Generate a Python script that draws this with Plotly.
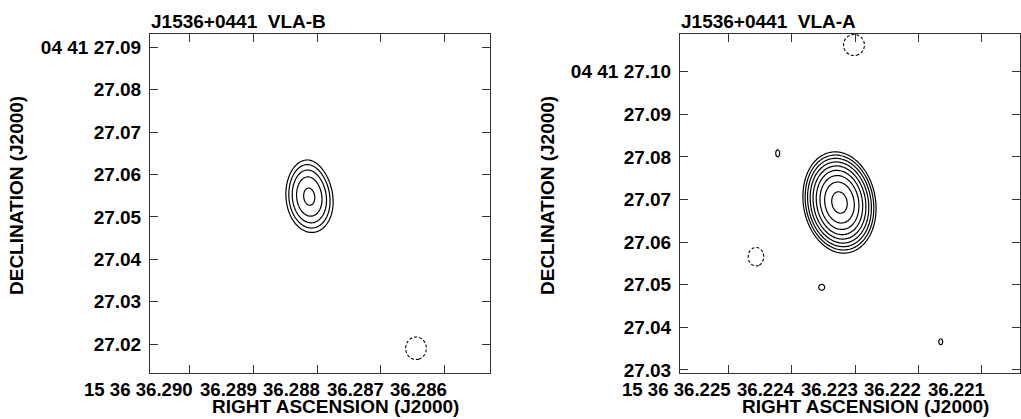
import numpy as np
import plotly.graph_objects as go

# ---------------- data ----------------
TITLES = ["J1536+0441  VLA-B", "J1536+0441  VLA-A"]
X_TITLE = "RIGHT ASCENSION (J2000)"
Y_TITLE = "DECLINATION (J2000)"

# axis extents (RA seconds of time, Dec arcsec within 04 41)
RA_RANGE_B = [36.290629, 36.285281]
DEC_RANGE_B = [27.013166, 27.093138]
RA_RANGE_A = [36.225762, 36.220396]
DEC_RANGE_A = [27.029291, 27.108847]

RA_TICKS_B = [36.290, 36.289, 36.288, 36.287, 36.286]
RA_TICKTEXT_B = ["15 36 36.290", "36.289", "36.288", "36.287", "36.286"]
DEC_TICKS_B = [27.02, 27.03, 27.04, 27.05, 27.06, 27.07, 27.08, 27.09]
DEC_TICKTEXT_B = ["27.02", "27.03", "27.04", "27.05", "27.06", "27.07", "27.08", "04 41 27.09"]

RA_TICKS_A = [36.225, 36.224, 36.223, 36.222, 36.221]
RA_TICKTEXT_A = ["15 36 36.225", "36.224", "36.223", "36.222", "36.221"]
DEC_TICKS_A = [27.03, 27.04, 27.05, 27.06, 27.07, 27.08, 27.09, 27.10]
DEC_TICKTEXT_A = ["27.03", "27.04", "27.05", "27.06", "27.07", "27.08", "27.09", "04 41 27.10"]

# contour levels: LEVEL_BASE * LEVEL_FACTOR**k (in units of map rms); negative level = -LEVEL_BASE
LEVEL_BASE = 3.0
LEVEL_FACTOR = np.sqrt(2.0)
N_LEVELS_B = 5
N_LEVELS_A = 9

# emission components: position, peak (x rms), sigma major/minor (mas), PA (deg)
COMP_B_RA = [36.288112, 36.288160, 36.286445]
COMP_B_DEC = [27.053978, 27.058224, 27.018994]
COMP_B_PEAK = [11.0, 3.0, -4.5]
COMP_B_SMAJ = [4.72, 4.5, 2.96]
COMP_B_SMIN = [3.28, 2.8, 2.70]
COMP_B_PA = [7.0, 0.0, 0.0]

COMP_A_RA = [36.223245, 36.223016, 36.224563, 36.224220, 36.223526, 36.221647]
COMP_A_DEC = [27.069304, 27.106266, 27.056584, 27.080850, 27.049404, 27.036636]
COMP_A_PEAK = [54.7, -4.5, -4.5, 3.3, 3.3, 3.3]
COMP_A_SMAJ = [4.97, 2.74, 2.42, 1.88, 1.60, 1.60]
COMP_A_SMIN = [3.53, 2.74, 2.04, 1.08, 1.60, 1.08]
COMP_A_PA = [10.0, 0.0, 0.0, 0.0, 0.0, 0.0]

COS_DEC = np.cos(np.radians(4 + 41 / 60 + 27.07 / 3600))


def model_map(ra_rng, dec_rng, ras, decs, peaks, smaj, smin, pas, n=340):
    ra = np.linspace(min(ra_rng), max(ra_rng), n)
    dec = np.linspace(min(dec_rng), max(dec_rng), n)
    RA, DEC = np.meshgrid(ra, dec)
    z = np.zeros_like(RA)
    for r0, d0, a, sM, sm, pa in zip(ras, decs, peaks, smaj, smin, pas):
        dx = (RA - r0) * 15000.0 * COS_DEC   # mas, east positive
        dy = (DEC - d0) * 1000.0             # mas, north positive
        t = np.radians(pa)
        u = dx * np.sin(t) + dy * np.cos(t)
        v = dx * np.cos(t) - dy * np.sin(t)
        z += a * np.exp(-0.5 * (u ** 2 / sM ** 2 + v ** 2 / sm ** 2))
    return ra, dec, z


def level_index(z):
    # position on the geometric level ladder (k = 0, 1, 2, ...)
    return (np.log(np.clip(z, 0.3, None) / LEVEL_BASE) / np.log(LEVEL_FACTOR)).astype(np.float32)


fig = go.Figure()

panels = [
    dict(ra_rng=RA_RANGE_B, dec_rng=DEC_RANGE_B, comps=(COMP_B_RA, COMP_B_DEC, COMP_B_PEAK, COMP_B_SMAJ, COMP_B_SMIN, COMP_B_PA),
         nlev=N_LEVELS_B, xa="x", ya="y"),
    dict(ra_rng=RA_RANGE_A, dec_rng=DEC_RANGE_A, comps=(COMP_A_RA, COMP_A_DEC, COMP_A_PEAK, COMP_A_SMAJ, COMP_A_SMIN, COMP_A_PA),
         nlev=N_LEVELS_A, xa="x2", ya="y2"),
]

for p in panels:
    ra, dec, z = model_map(p["ra_rng"], p["dec_rng"], *p["comps"])
    fig.add_trace(go.Contour(
        x=ra, y=dec, z=level_index(z), xaxis=p["xa"], yaxis=p["ya"],
        contours=dict(start=0, end=p["nlev"] - 1, size=1, coloring="none"),
        line=dict(color="black", width=1.2, smoothing=1),
        showscale=False, hoverinfo="skip"))
    fig.add_trace(go.Contour(
        x=ra, y=dec, z=level_index(-z), xaxis=p["xa"], yaxis=p["ya"],
        contours=dict(start=0, end=0.5, size=1, coloring="none"),
        line=dict(color="black", width=1.1, dash="3px,2px", smoothing=1),
        showscale=False, hoverinfo="skip"))

W, H = 1021, 419
FONT = "Liberation Sans, Arial, Helvetica, sans-serif"
FS = 19
ax_common = dict(showline=True, mirror="ticks", linecolor="#333", linewidth=1,
                 ticks="inside", ticklen=8, tickcolor="#333", tickwidth=1,
                 showgrid=False, zeroline=False, automargin=False)

L_PX = [150, 490]
R_PX = [680, 1020]
TOP_PX, BOT_PX = 34, 373
ydom = [1 - BOT_PX / H, 1 - TOP_PX / H]

fig.update_layout(
    width=W, height=H, margin=dict(l=0, r=0, t=0, b=0, pad=0, autoexpand=False),
    paper_bgcolor="white", plot_bgcolor="white", showlegend=False,
    font=dict(family=FONT, size=FS, color="black"),
    xaxis=dict(domain=[L_PX[0] / W, L_PX[1] / W], range=RA_RANGE_B, tickvals=RA_TICKS_B,
               showticklabels=False, anchor="y", **ax_common),
    yaxis=dict(domain=ydom, range=DEC_RANGE_B, tickvals=DEC_TICKS_B, ticktext=DEC_TICKTEXT_B,
               tickfont=dict(family=FONT, size=FS, weight="bold"), ticklabelstandoff=4,
               anchor="x", **ax_common),
    xaxis2=dict(domain=[R_PX[0] / W, R_PX[1] / W], range=RA_RANGE_A, tickvals=RA_TICKS_A,
                showticklabels=False, anchor="y2", **ax_common),
    yaxis2=dict(domain=ydom, range=DEC_RANGE_A, tickvals=DEC_TICKS_A, ticktext=DEC_TICKTEXT_A,
                tickfont=dict(family=FONT, size=FS, weight="bold"), ticklabelstandoff=4,
                anchor="x2", **ax_common),
)

bold = dict(family=FONT, size=FS, color="black", weight="bold")
tick_font = dict(family=FONT, size=18.6, color="black", weight="bold")
ann = []
for xref, ticks, texts in [("x", RA_TICKS_B, RA_TICKTEXT_B), ("x2", RA_TICKS_A, RA_TICKTEXT_A)]:
    for tv, tt in zip(ticks, texts):
        ann.append(dict(x=tv, y=ydom[0], xref=xref, yref="paper", text=tt, showarrow=False,
                        xanchor="right", yanchor="middle", xshift=4, yshift=-16, font=tick_font,
                        borderpad=0))
# panel titles
for x0, t in zip([L_PX[0], R_PX[0]], TITLES):
    ann.append(dict(x=x0 / W, y=1 - 21 / H, xref="paper", yref="paper", text=t, showarrow=False,
                    xanchor="left", yanchor="middle", font=bold, borderpad=0))
# axis titles
for xc in [335, 865]:
    ann.append(dict(x=xc / W, y=1 - 406 / H, xref="paper", yref="paper", text=X_TITLE, showarrow=False,
                    xanchor="center", yanchor="middle", font=bold, borderpad=0))
for xc in [17, 548]:
    ann.append(dict(x=xc / W, y=1 - 196 / H, xref="paper", yref="paper", text=Y_TITLE, showarrow=False,
                    textangle=-90, xanchor="center", yanchor="middle", font=bold, borderpad=0))
fig.update_layout(annotations=ann)

fig.write_html("out.html", config={"displayModeBar": False},
               post_script="document.body.style.margin='0px';document.body.style.overflow='hidden';")
